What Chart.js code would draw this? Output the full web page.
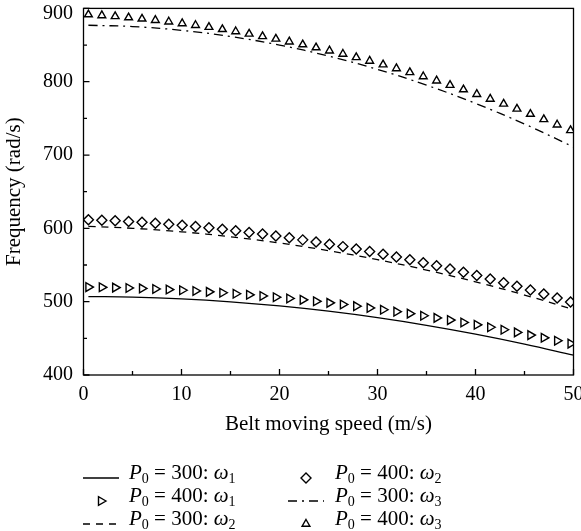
<!DOCTYPE html>
<html>
<head>
<meta charset="utf-8">
<title>Frequency vs belt moving speed</title>
<script src="https://cdn.jsdelivr.net/npm/chart.js@4.4.1/dist/chart.umd.min.js"></script>
<style>
  html, body { margin: 0; padding: 0; background: #fff; }
  #wrap { position: relative; width: 581px; height: 531px; overflow: hidden; }
  #legend { position: absolute; left: 0; top: 0; width: 581px; height: 531px; pointer-events: none;
            font-family: 'Liberation Serif', 'DejaVu Serif', serif; font-size: 21px; color: #000; }
  #legend .sym { position: absolute; }
  #legend .txt { position: absolute; white-space: nowrap; line-height: 24px; }
  #legend sub { font-size: 14px; vertical-align: -4px; line-height: 0; }
</style>
</head>
<body>
<div id="wrap">
  <canvas id="freq-chart"></canvas>
  <div id="legend"></div>
</div>
<script>
// Belt speeds (m/s) where the P0 = 400 results were sampled
const speedMarkers = [0.5, 1.87, 3.23, 4.6, 5.97, 7.33, 8.7, 10.07, 11.43, 12.8, 14.17, 15.53, 16.9,
  18.27, 19.63, 21.0, 22.37, 23.73, 25.1, 26.47, 27.83, 29.2, 30.57, 31.93, 33.3, 34.67, 36.03,
  37.4, 38.77, 40.13, 41.5, 42.87, 44.23, 45.6, 46.97, 48.33, 49.7];
// Belt speeds (m/s) for the P0 = 300 curves
const speedLine = [0.5, 5, 10, 15, 20, 25, 30, 35, 40, 45, 50];

// P0 = 300 (lines)
const omega1P300 = [507.0, 506.2, 503.8, 499.8, 494.2, 487.0, 478.2, 467.8, 455.8, 442.2, 427.0];
const omega2P300 = [602.8, 600.1, 595.3, 588.6, 580.0, 569.6, 557.3, 543.1, 527.0, 509.1, 489.3];
const omega3P300 = [877.0, 875.2, 870.1, 861.7, 850.0, 835.0, 816.8, 795.3, 770.4, 742.3, 711.0];

// P0 = 400 (markers)
const omega1P400 = [519.9, 519.6, 519.2, 518.7, 518.1, 517.4, 516.5, 515.6, 514.6, 513.4, 512.2,
  510.8, 509.4, 507.8, 506.1, 504.4, 502.5, 500.5, 498.4, 496.2, 493.9, 491.5, 489.0, 486.4, 483.7,
  480.8, 477.9, 474.9, 471.7, 468.5, 465.1, 461.7, 458.1, 454.4, 450.7, 446.8, 442.8];
const omega2P400 = [611.8, 611.1, 610.3, 609.4, 608.3, 607.1, 605.7, 604.2, 602.5, 600.7, 598.8,
  596.7, 594.5, 592.2, 589.7, 587.1, 584.3, 581.4, 578.3, 575.1, 571.8, 568.4, 564.7, 561.0, 557.1,
  553.1, 548.9, 544.6, 540.1, 535.6, 530.8, 525.9, 521.0, 515.8, 510.5, 505.1, 499.5];
const omega3P400 = [891.6, 890.4, 889.1, 887.5, 885.8, 883.9, 881.8, 879.5, 877.0, 874.4, 871.5,
  868.5, 865.3, 861.9, 858.4, 854.6, 850.7, 846.6, 842.3, 837.8, 833.2, 828.3, 823.3, 818.1, 812.7,
  807.1, 801.4, 795.4, 789.3, 783.0, 776.5, 769.8, 763.0, 755.9, 748.7, 741.3, 733.7];

// Axis ranges and tick steps
const xRange = [0, 50];
const yRange = [400, 900];
const xMajor = 10, xMinor = 5;
const yMajor = 100, yMinor = 50;

// Legend entries: P0 and mode index
const legendP0 = [300, 400, 300, 400, 300, 400];
const legendMode = [1, 1, 2, 2, 3, 3];

const serif = "'Liberation Serif', 'DejaVu Serif', serif";
const tickFontSize = 20;
Chart.defaults.font.family = serif;
Chart.defaults.color = '#000';

const pts = (xs, ys) => xs.map((x, i) => ({ x: x, y: ys[i] }));

function curve(label, xs, ys, dash) {
  return {
    label: label, data: pts(xs, ys),
    borderColor: '#000', borderWidth: 1.3, borderDash: dash,
    pointRadius: 0, tension: 0.4, fill: false
  };
}

function markers(label, xs, ys, style, radius, rotation) {
  return {
    label: label, data: pts(xs, ys), showLine: false,
    pointStyle: style, pointRadius: radius, pointRotation: rotation,
    pointBorderColor: '#000', pointBackgroundColor: 'rgba(0,0,0,0)', pointBorderWidth: 1.4
  };
}

const datasets = [
  curve('P0 = 300: ω1', speedLine, omega1P300, []),
  markers('P0 = 400: ω1', speedMarkers, omega1P400, 'triangle', 5, 90),
  curve('P0 = 300: ω2', speedLine, omega2P300, [7, 6]),
  markers('P0 = 400: ω2', speedMarkers, omega2P400, 'rectRot', 5, 0),
  curve('P0 = 300: ω3', speedLine, omega3P300, [9, 5, 2, 5]),
  markers('P0 = 400: ω3', speedMarkers, omega3P400, 'triangle', 4.5, 0)
];

// Plot frame, inward tick marks and y tick labels (kept inside the canvas at the top)
const frame = {
  id: 'frame',
  afterDatasetsDraw(chart) {
    const { ctx, chartArea: a, scales: { x, y } } = chart;
    ctx.save();
    ctx.strokeStyle = '#000';
    ctx.lineWidth = 1.3;
    ctx.strokeRect(a.left, a.top, a.right - a.left, a.bottom - a.top);
    ctx.beginPath();
    y.ticks.forEach(t => {
      const py = y.getPixelForValue(t.value);
      const len = t.value % yMajor === 0 ? 6 : 3.5;
      ctx.moveTo(a.left, py);
      ctx.lineTo(a.left + len, py);
    });
    x.ticks.forEach(t => {
      const px = x.getPixelForValue(t.value);
      const len = t.value % xMajor === 0 ? 6 : 4;
      ctx.moveTo(px, a.bottom);
      ctx.lineTo(px, a.bottom - len);
    });
    ctx.stroke();

    ctx.fillStyle = '#000';
    ctx.font = tickFontSize + 'px ' + serif;
    ctx.textAlign = 'right';
    ctx.textBaseline = 'middle';
    y.ticks.forEach(t => {
      if (t.value % yMajor !== 0) return;
      const py = Math.max(y.getPixelForValue(t.value), tickFontSize * 0.68);
      ctx.fillText(String(t.value), a.left - 10.5, py);
    });
    ctx.restore();
  }
};

new Chart(document.getElementById('freq-chart'), {
  type: 'line',
  data: { datasets: datasets },
  plugins: [frame],
  options: {
    responsive: true,
    maintainAspectRatio: false,
    animation: false,
    layout: { autoPadding: false, padding: { top: 8.4, right: 7.5, bottom: 94, left: 0 } },
    plugins: { legend: { display: false }, tooltip: { enabled: false } },
    scales: {
      x: {
        type: 'linear', min: xRange[0], max: xRange[1],
        grid: { display: false, drawTicks: false },
        border: { display: false },
        ticks: {
          stepSize: xMinor, autoSkip: false, maxRotation: 0, padding: 7.5,
          font: { size: tickFontSize },
          callback: v => (v % xMajor === 0 ? v : '')
        },
        title: { display: true, text: 'Belt moving speed (m/s)', font: { size: 21 }, padding: { top: 0, bottom: 0 } },
        afterFit: s => { s.height = 62; s.paddingLeft = 0; s.paddingRight = 0; }
      },
      y: {
        min: yRange[0], max: yRange[1],
        grid: { display: false, drawTicks: false },
        border: { display: false },
        ticks: { stepSize: yMinor, autoSkip: false, display: false },
        title: { display: true, text: 'Frequency (rad/s)', font: { size: 21 }, padding: { top: 2, bottom: 0 } },
        afterFit: s => { s.width = 83.5; s.paddingTop = 0; s.paddingBottom = 0; }
      }
    }
  }
});

// HTML legend below the plot, two columns of three rows
function legendSymbol(ds) {
  const w = 36, h = 14, c = h / 2;
  let body;
  if (ds.showLine === false) {
    const r = ds.pointRadius, mx = w / 2;
    let p;
    if (ds.pointStyle === 'rectRot') {
      p = [[mx, c - r], [mx + r, c], [mx, c + r], [mx - r, c]];
    } else if (ds.pointRotation === 90) {
      p = [[mx + r, c], [mx - r / 2, c - r * 0.866], [mx - r / 2, c + r * 0.866]];
    } else {
      p = [[mx, c - r], [mx + r * 0.866, c + r / 2], [mx - r * 0.866, c + r / 2]];
    }
    body = '<polygon points="' + p.map(q => q.join(',')).join(' ') +
      '" fill="none" stroke="#000" stroke-width="' + ds.pointBorderWidth + '"/>';
  } else {
    const dash = ds.borderDash.length ? ' stroke-dasharray="' + ds.borderDash.join(',') + '"' : '';
    body = '<line x1="0" y1="' + c + '" x2="' + w + '" y2="' + c + '" stroke="#000" stroke-width="' +
      ds.borderWidth + '"' + dash + '/>';
  }
  return '<svg width="' + w + '" height="' + h + '">' + body + '</svg>';
}

const legendEl = document.getElementById('legend');
const symLeft = [83, 288];
const textLeft = [129, 335];
const rowMid = [473, 496, 519];
datasets.forEach((ds, i) => {
  const col = Math.floor(i / 3), row = i % 3;
  const sym = document.createElement('div');
  sym.className = 'sym';
  sym.style.left = symLeft[col] + 'px';
  sym.style.top = (rowMid[row] - 7) + 'px';
  sym.innerHTML = legendSymbol(ds);
  legendEl.appendChild(sym);
  const txt = document.createElement('div');
  txt.className = 'txt';
  txt.style.left = textLeft[col] + 'px';
  txt.style.top = (rowMid[row] - 13) + 'px';
  txt.innerHTML = '<i>P</i><sub>0</sub> = ' + legendP0[i] + ': <i>ω</i><sub>' + legendMode[i] + '</sub>';
  legendEl.appendChild(txt);
});
</script>
</body>
</html>
